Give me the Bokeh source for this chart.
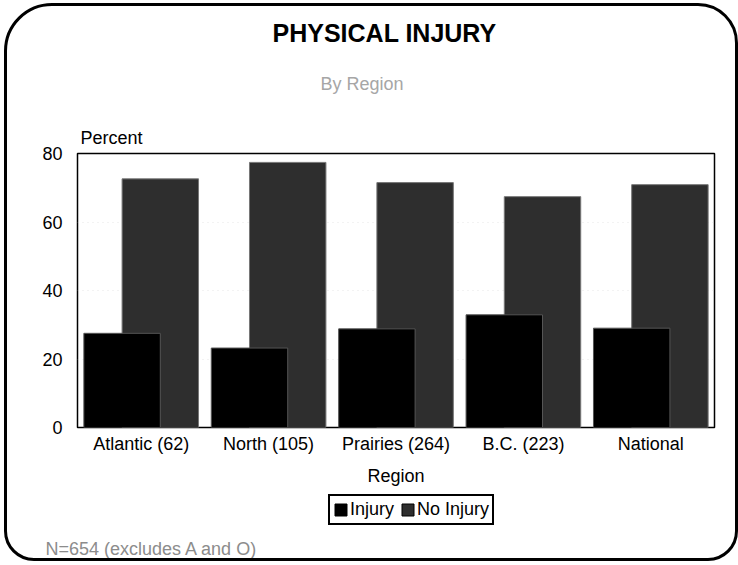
from bokeh.plotting import figure
from bokeh.layouts import column
from bokeh.models import (ColumnDataSource, Legend, LegendItem, Title,
                          FixedTicker, Range1d, FactorRange)
from bokeh.transform import dodge
from bokeh.embed import file_html
from bokeh.resources import INLINE

regions = ["Atlantic (62)", "North (105)", "Prairies (264)", "B.C. (223)", "National"]
injury = [27.5, 23.2, 28.8, 32.9, 29.0]
no_injury = [72.6, 77.4, 71.5, 67.4, 70.9]
y_ticks = [0, 20, 40, 60, 80]
series_names = ["Injury", "No Injury"]
series_colors = ["black", "#2e2e2e"]

FONT = "Liberation Sans"
W = 728

src = ColumnDataSource(dict(region=regions, injury=injury, no_injury=no_injury))

p = figure(width=W, height=486,
           x_range=FactorRange(factors=regions, range_padding=0),
           y_range=Range1d(0, 80),
           output_backend="svg", toolbar_location=None,
           min_border_left=70, min_border_right=21,
           min_border_top=147, min_border_bottom=65)
p.border_fill_alpha = 0

r_no = p.vbar(x=dodge("region", 0.15, range=p.x_range), top="no_injury", width=0.6,
              source=src, fill_color=series_colors[1], line_color="#777777", line_width=1)
r_in = p.vbar(x=dodge("region", -0.15, range=p.x_range), top="injury", width=0.6,
              source=src, fill_color=series_colors[0], line_color="#555555", line_width=1)

p.outline_line_color = "black"
p.outline_line_width = 1.5
p.xgrid.grid_line_color = None
p.ygrid.grid_line_color = "#cfcfcf"
p.ygrid.grid_line_dash = "1 4"
p.ygrid.grid_line_alpha = 0.5

p.yaxis.ticker = FixedTicker(ticks=y_ticks)
for ax in (p.xaxis[0], p.yaxis[0]):
    ax.axis_line_color = None
    ax.major_tick_line_color = None
    ax.minor_tick_line_color = None
    ax.major_tick_out = 0
    ax.major_label_text_font = FONT
    ax.major_label_text_font_size = "18px"
    ax.major_label_text_color = "black"
p.yaxis.major_label_standoff = 15
p.xaxis.major_label_standoff = 6
p.xaxis.axis_label = "Region"
p.xaxis.axis_label_text_font = FONT
p.xaxis.axis_label_text_font_size = "18px"
p.xaxis.axis_label_text_font_style = "normal"
p.xaxis.axis_label_text_color = "black"
p.xaxis.axis_label_standoff = 9

# titles above (first added = nearest to frame)
p.add_layout(Title(text="Percent", align="left", offset=3, standoff=12,
                   text_font=FONT, text_font_size="18px", text_font_style="normal",
                   text_color="black"), "above")
p.add_layout(Title(text="By Region", align="left", offset=243, standoff=51,
                   text_font=FONT, text_font_size="18px", text_font_style="normal",
                   text_color="#a6a6a6"), "above")
p.add_layout(Title(text="PHYSICAL INJURY", align="left", offset=195, standoff=0,
                   text_font=FONT, text_font_size="25px", text_font_style="bold",
                   text_color="black"), "above")

# bottom strip: legend and footnote
p2 = figure(width=W, height=66,
            x_range=FactorRange(factors=regions, range_padding=0), y_range=Range1d(0, 1),
            output_backend="svg", toolbar_location=None,
            x_axis_location=None, y_axis_location=None,
            min_border_left=70, min_border_right=21, min_border_top=0, min_border_bottom=22)
p2.border_fill_alpha = 0
p2.background_fill_alpha = 0
p2.outline_line_color = None
p2.grid.grid_line_color = None
g_in = p2.vbar(x="region", top="injury", width=0.6, source=src,
               fill_color=series_colors[0], line_color="black", visible=False)
g_no = p2.vbar(x="region", top="no_injury", width=0.6, source=src,
               fill_color=series_colors[1], line_color="black", visible=False)

legend = Legend(items=[LegendItem(label=series_names[0], renderers=[g_in]),
                       LegendItem(label=series_names[1], renderers=[g_no])],
                orientation="horizontal", location=(251, 11),
                border_line_color="black", border_line_width=2, border_line_alpha=1,
                label_text_font=FONT, label_text_font_size="18px", label_text_color="black",
                glyph_width=15, glyph_height=15, label_standoff=2, spacing=6,
                padding=3, margin=0, label_height=20, background_fill_alpha=1,
                inactive_fill_alpha=0)
p2.add_layout(legend, "center")

p2.add_layout(Title(text="N=654  (excludes A and O)", align="left", offset=-32, standoff=0,
                    text_font=FONT, text_font_size="18px", text_font_style="normal",
                    text_color="#8c8c8c"), "below")

layout = column(p, p2, spacing=0, margin=(3, 0, 0, 4),
                styles={"border": "3px solid black",
                        "border-radius": "48px 40px 30px 30px"})

open("out.html", "w").write(file_html(layout, INLINE))
